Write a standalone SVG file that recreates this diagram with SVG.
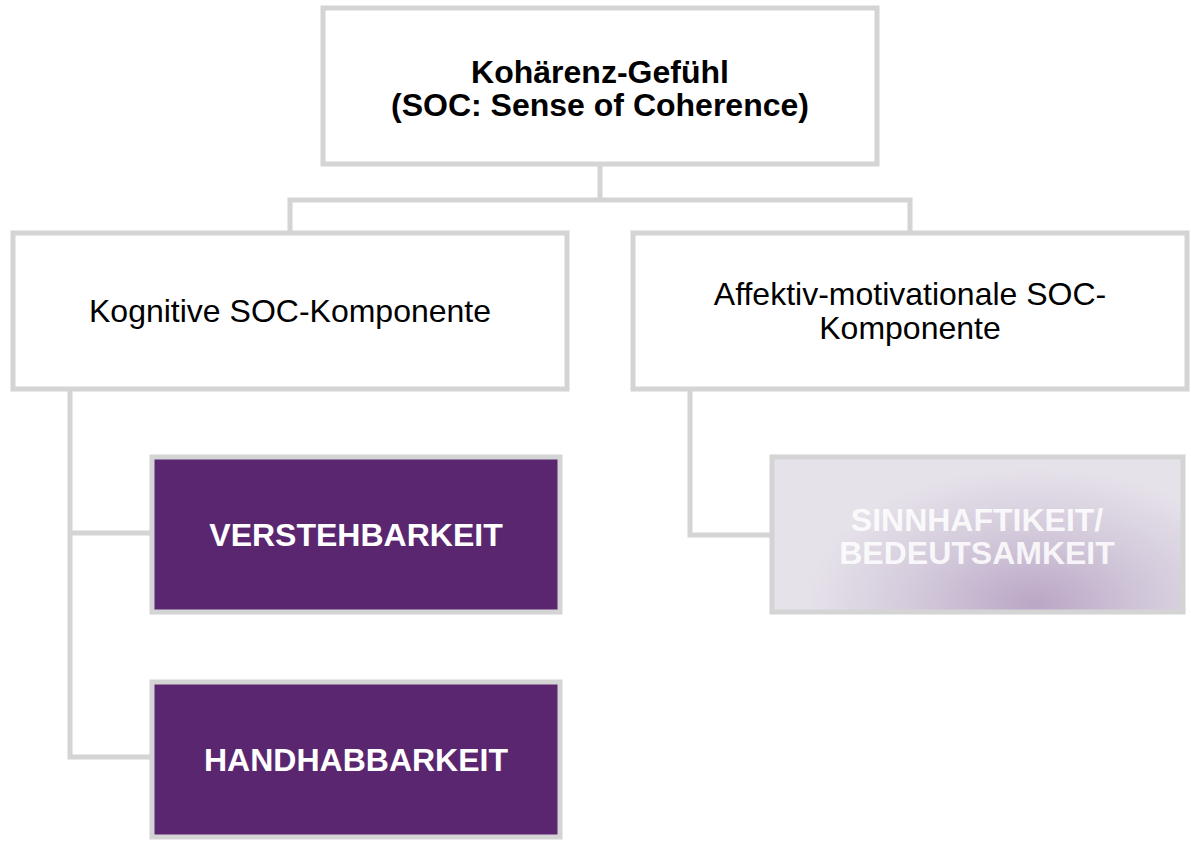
<svg xmlns="http://www.w3.org/2000/svg" width="1191" height="843" viewBox="0 0 1191 843">
<defs>
<style>
.box{fill:#ffffff;stroke:#d4d4d4;stroke-width:5}
.dark{fill:#5b2670;stroke:#d4d4d4;stroke-width:5}
.faded{fill:url(#fade);stroke:#d4d4d4;stroke-width:5}
.conn{fill:none;stroke:#d4d4d4;stroke-width:5}
.t{font-family:"Liberation Sans",Arial,sans-serif;font-size:32px;fill:#000;text-anchor:middle}
.b{font-weight:bold}
.w{font-family:"Liberation Sans",Arial,sans-serif;font-size:32px;font-weight:bold;fill:#fff;text-anchor:middle}
.wf{fill-opacity:0.85}
</style>
<radialGradient id="fade" gradientUnits="userSpaceOnUse" cx="1035" cy="605" r="230" fx="1035" fy="605" gradientTransform="translate(1035,605) scale(1,0.6) translate(-1035,-605)">
<stop offset="0" stop-color="#baa6c6"/>
<stop offset="0.5" stop-color="#d2c8da"/>
<stop offset="1" stop-color="#e6e2ea"/>
</radialGradient>
</defs>
<rect width="1191" height="843" fill="#ffffff"/>
<g id="connectors">
<path class="conn" d="M600,165 V200 M290,232 V200 H910 V232"/>
<path class="conn" d="M70,390 V757 H152 M70,533 H152"/>
<path class="conn" d="M690,390 V535 H772"/>
</g>
<g id="node-soc">
<rect class="box" x="323" y="8" width="554" height="156"/>
<text class="t b" x="600" y="83">Kohärenz-Gefühl</text>
<text class="t b" x="600" y="116">(SOC: Sense of Coherence)</text>
</g>
<g id="node-kognitiv">
<rect class="box" x="13" y="233" width="554" height="156"/>
<text class="t" x="290" y="322">Kognitive SOC-Komponente</text>
</g>
<g id="node-affektiv">
<rect class="box" x="633" y="233" width="554" height="156"/>
<text class="t" x="910" y="305">Affektiv-motivationale SOC-</text>
<text class="t" x="910" y="339">Komponente</text>
</g>
<g id="node-verstehbarkeit">
<rect class="dark" x="152" y="457" width="408" height="155"/>
<text class="w" x="356" y="546">VERSTEHBARKEIT</text>
</g>
<g id="node-handhabbarkeit">
<rect class="dark" x="152" y="682" width="408" height="155"/>
<text class="w" x="356" y="771">HANDHABBARKEIT</text>
</g>
<g id="node-sinnhaftigkeit">
<rect class="faded" x="772" y="457" width="411" height="155"/>
<text class="w wf" x="977" y="531">SINNHAFTIKEIT/</text>
<text class="w wf" x="977" y="564">BEDEUTSAMKEIT</text>
</g>
</svg>
